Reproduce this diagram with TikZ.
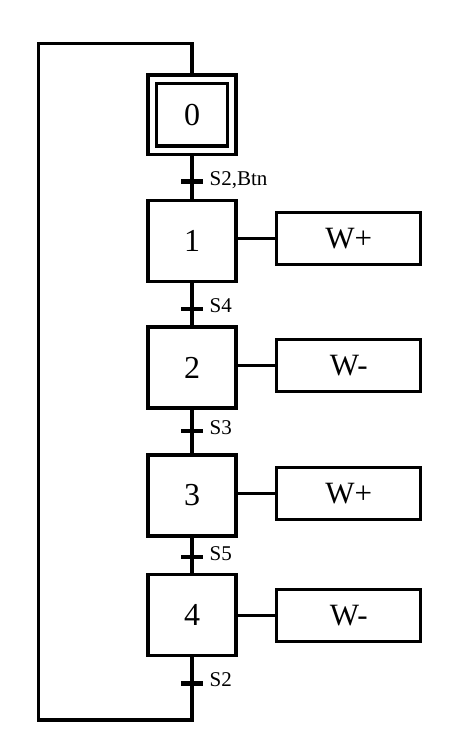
\documentclass[tikz,border=0pt]{standalone}
\usepackage{fontspec}
\setmainfont{Liberation Serif}

\begin{document}
\begin{tikzpicture}[x=1pt, y=-1pt, line width=3.2pt]
    \tikzstyle{stepbox}=[rectangle, draw, minimum width=88pt, minimum height=81pt, inner sep=0pt, font=\fontsize{32}{36}\selectfont]
    \tikzstyle{initstep}=[stepbox, double, double distance=5.4pt, minimum width=79.5pt, minimum height=71pt, outer sep=5.9pt]
    \tikzstyle{action}=[rectangle, draw, minimum width=144pt, minimum height=52pt, inner sep=0pt, font=\fontsize{31}{36}\selectfont]
    \tikzstyle{bar}=[rectangle, fill, minimum width=22pt, minimum height=4.5pt, inner sep=0pt, outer sep=0pt]
    \tikzstyle{cond}=[anchor=base west, xshift=5pt, yshift=-3.5pt, inner sep=0pt, font=\fontsize{21}{24}\selectfont]
    \useasboundingbox (0,0) rectangle (453,734);
    \node[initstep] (s0) at (192,114.7) {0};
    \node[stepbox] (s1) at (192,241.3) {1};
    \node[stepbox] (s2) at (192,367.5) {2};
    \node[stepbox] (s3) at (192,495.5) {3};
    \node[stepbox] (s4) at (192,615) {4};
    \node[action] (a1) at (348.8,238.2) {W+};
    \node[action] (a2) at (348.8,365.2) {W-};
    \node[action] (a3) at (348.8,493.8) {W+};
    \node[action] (a4) at (348.8,615.8) {W-};
    \node[bar, label={[cond]east:{S2,Btn}}] (t1) at (192,181.7) {};
    \node[bar, label={[cond]east:S4}] (t2) at (192,308.8) {};
    \node[bar, label={[cond]east:S3}] (t3) at (192,431.2) {};
    \node[bar, label={[cond]east:S5}] (t4) at (192,557.2) {};
    \node[bar, label={[cond]east:S2}] (t5) at (192,683.3) {};
    \coordinate (lb) at (38.3,720);
    \coordinate (lt) at (38.3,43.3);
    \draw (s0) -- (t1);
    \draw (t1) -- (s1);
    \draw (s1) -- (t2);
    \draw (t2) -- (s2);
    \draw (s2) -- (t3);
    \draw (t3) -- (s3);
    \draw (s3) -- (t4);
    \draw (t4) -- (s4);
    \draw (s4) -- (t5);
    \draw (t5) |- (lb) -- (lt) -| (s0);
    \draw (a1.west) -- (a1.west -| s1.east);
    \draw (a2.west) -- (a2.west -| s2.east);
    \draw (a3.west) -- (a3.west -| s3.east);
    \draw (a4.west) -- (a4.west -| s4.east);
\end{tikzpicture}
\end{document}
